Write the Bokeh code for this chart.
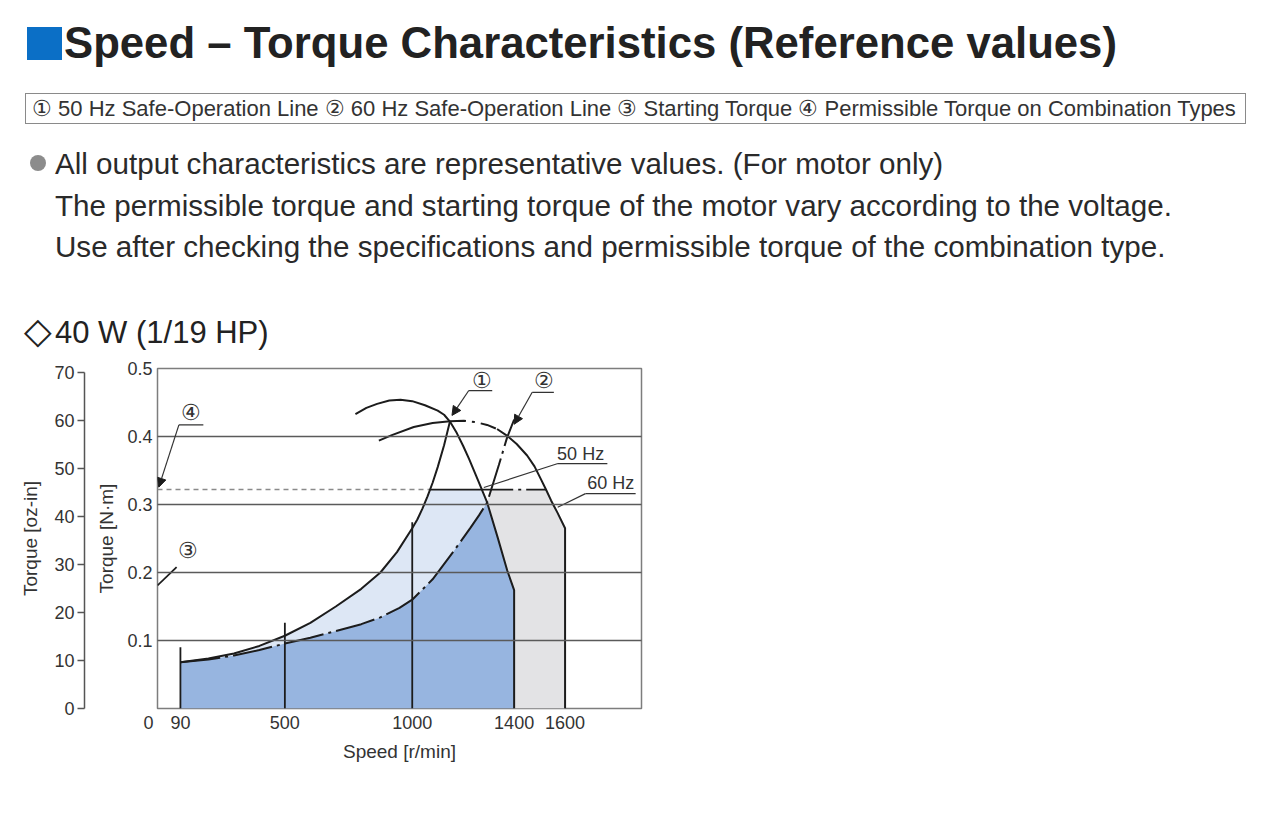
from bokeh.plotting import figure
from bokeh.layouts import column
from bokeh.models import Range1d, LinearAxis, FixedTicker, Arrow, NormalHead, Div
from bokeh.embed import file_html
from bokeh.resources import INLINE
from bokeh.core.properties import value

# ---------------- data ----------------
speed_ticks = [0, 90, 500, 1000, 1400, 1600]
nm_ticks = [0.1, 0.2, 0.3, 0.4, 0.5]
nm_grid = [0.1, 0.2, 0.3, 0.4]
oz_ticks = [0, 10, 20, 30, 40, 50, 60, 70]

# (1) 50 Hz safe-operation line
safe50_speed = [90, 200, 300, 400, 500, 600, 700, 800, 875, 940, 1000, 1020, 1040, 1060,
                1080, 1100, 1125, 1148]
safe50_torque = [0.068, 0.0735, 0.081, 0.092, 0.107, 0.126, 0.150, 0.176, 0.200, 0.230,
                 0.265, 0.278, 0.294, 0.312, 0.332, 0.355, 0.387, 0.422]
# (2) 60 Hz safe-operation line
safe60_speed = [90, 200, 300, 400, 500, 600, 700, 800, 875, 950, 1000, 1080, 1164, 1229,
                1262, 1294, 1310, 1340, 1372, 1400]
safe60_torque = [0.068, 0.072, 0.078, 0.086, 0.0955, 0.104, 0.114, 0.124, 0.134, 0.148,
                 0.160, 0.190, 0.232, 0.266, 0.284, 0.303, 0.322, 0.358, 0.398, 0.425]
# 50 Hz speed-torque curve
motor50_speed = [777, 820, 862, 910, 954, 1000, 1050, 1100, 1125, 1148, 1175, 1200, 1223,
                 1260, 1294, 1335, 1373, 1400, 1400]
motor50_torque = [0.433, 0.442, 0.448, 0.453, 0.454, 0.452, 0.446, 0.438, 0.432, 0.422,
                  0.405, 0.386, 0.367, 0.334, 0.303, 0.252, 0.203, 0.174, 0.0]
# 60 Hz speed-torque curve
motor60_speed = [869, 920, 1006, 1080, 1148, 1203, 1250, 1294, 1333, 1373, 1410, 1451,
                 1480, 1504, 1525, 1545, 1570, 1600, 1600]
motor60_torque = [0.394, 0.402, 0.414, 0.420, 0.4225, 0.423, 0.421, 0.417, 0.411, 0.401,
                  0.389, 0.372, 0.356, 0.338, 0.322, 0.306, 0.288, 0.265, 0.0]
# (4) permissible torque on combination types
perm_torque = 0.322
perm_dash_speed = [0, 1070]
cap50_speed = [1070, 1273]
cap60_speed = [1310, 1525]
# speed marker lines
marker_speed = [90, 500, 1000]
marker_top = [0.090, 0.126, 0.274]
# (3) starting torque mark
start_speed = [0, 75]
start_torque = [0.181, 0.208]

# call-outs
circled_text = ["\u2460", "\u2461", "\u2462", "\u2463"]
circled_x = [1273, 1516, 118, 133]
circled_y = [0.483, 0.482, 0.233, 0.436]
hz_text = ["50 Hz", "60 Hz"]
hz_x = [1661, 1779]
hz_y = [0.375, 0.332]
underline_x0 = [1222, 1471, 84, 1569, 1680]
underline_x1 = [1314, 1556, 180, 1766, 1877]
underline_y = [0.4676, 0.465, 0.417, 0.360, 0.316]
arrow_x0 = [1222, 1471, 84]
arrow_y0 = [0.4676, 0.465, 0.417]
arrow_x1 = [1156, 1400, 5]
arrow_y1 = [0.431, 0.418, 0.3255]
leader_x0 = [1569, 1680]
leader_y0 = [0.360, 0.316]
leader_x1 = [1281, 1571]
leader_y1 = [0.325, 0.296]

title = "Speed \u2013 Torque Characteristics (Reference values)"
legend_text = ("\u2460 50 Hz Safe-Operation Line \u2461 60 Hz Safe-Operation Line "
               "\u2462 Starting Torque \u2463 Permissible Torque on Combination Types")
notes = ["All output characteristics are representative values. (For motor only)",
         "The permissible torque and starting torque of the motor vary according to the voltage.",
         "Use after checking the specifications and permissible torque of the combination type."]
subtitle_mark = "\u25c7"
subtitle = "40 W (1/19 HP)"

# ---------------- styles ----------------
FONT = "Liberation Sans"
CSS_FONT = "font-family:'Liberation Sans',Arial,sans-serif;"
TXT = "#333333"
INK = "#1c1c1c"
DARK_BLUE = "#97b5e0"
LIGHT_BLUE = "#dde7f5"
GRAY = "#e3e3e5"
W = 1264
HEAD_H = 352
CHART_H = 448


def text_block(left, top, size, text, weight="normal", color="#222222"):
    return (f'<div style="position:absolute;left:{left}px;top:{top}px;{CSS_FONT}'
            f'font-size:{size}px;font-weight:{weight};color:{color};line-height:1;'
            f'white-space:nowrap;">{text}</div>')


# ---------------- header (page text) ----------------
parts = [
    '<div style="position:absolute;left:27px;top:27px;width:35px;height:33px;'
    'background:#0b6fc6;"></div>',
    text_block(64, 21.0, 43.7, title, weight="bold"),
    '<div style="position:absolute;left:25px;top:93px;width:1221px;height:31px;'
    'box-sizing:border-box;border:1.5px solid #8a8a8a;"></div>',
    text_block(32, 97.8, 22, legend_text, color="#333333"),
    '<div style="position:absolute;left:30px;top:155px;width:16px;height:16px;'
    'border-radius:50%;background:#8c8c8c;"></div>',
]
for note, top in zip(notes, [149.0, 190.5, 232.0]):
    parts.append(text_block(55, top, 29.6, note, color="#2a2a2a"))
parts.append(text_block(
    24, 312.5, 31,
    f'<span style="font-size:36px;margin-right:3px;">{subtitle_mark}</span>{subtitle}'))
head = Div(text='<div style="position:relative;width:1264px;height:352px;">'
           + "".join(parts) + "</div>", width=W, height=HEAD_H, margin=(0, 0, 0, 0))

# ---------------- chart ----------------
p = figure(width=W, height=CHART_H, x_range=Range1d(0, 1900), y_range=Range1d(0, 0.5),
           output_backend="svg", toolbar_location=None,
           min_border_left=157, min_border_right=W - 641, min_border_top=368 - HEAD_H,
           min_border_bottom=HEAD_H + CHART_H - 708)
p.background_fill_color = "white"
p.border_fill_color = "white"
p.outline_line_color = "#7d7d7d"
p.outline_line_width = 1.5

# x axis
p.xaxis.ticker = FixedTicker(ticks=speed_ticks)
p.xaxis.major_label_overrides = {0: "0\u2003"}
p.xaxis.axis_line_color = None
p.xaxis.major_tick_line_color = None
p.xaxis.minor_tick_line_color = None
p.xaxis.major_tick_out = 0
p.xaxis.minor_tick_out = 0
p.xaxis.major_label_text_font = FONT
p.xaxis.major_label_text_font_size = "18px"
p.xaxis.major_label_text_color = TXT
p.xaxis.major_label_standoff = 4
p.xaxis.axis_label = "Speed [r/min]"
p.xaxis.axis_label_text_font = FONT
p.xaxis.axis_label_text_font_size = "19px"
p.xaxis.axis_label_text_font_style = "normal"
p.xaxis.axis_label_text_color = TXT
p.xaxis.axis_label_standoff = 5

# N·m axis
ynm = p.yaxis[0]
ynm.ticker = FixedTicker(ticks=nm_ticks)
ynm.axis_line_color = None
ynm.major_tick_line_color = None
ynm.minor_tick_line_color = None
ynm.major_tick_out = 0
ynm.minor_tick_out = 0
ynm.major_label_text_font = FONT
ynm.major_label_text_font_size = "18px"
ynm.major_label_text_color = TXT
ynm.major_label_standoff = 5
ynm.axis_label = "Torque [N\u00b7m]"
ynm.axis_label_text_font = FONT
ynm.axis_label_text_font_size = "19px"
ynm.axis_label_text_font_style = "normal"
ynm.axis_label_text_color = TXT
ynm.axis_label_standoff = 7

# empty spacer between the two torque axes
spacer = LinearAxis(ticker=FixedTicker(ticks=[]), axis_line_color=None,
                    major_tick_line_color=None, minor_tick_line_color=None,
                    major_tick_out=0, minor_tick_out=0, axis_label="\u00a0",
                    axis_label_text_font_size="1px", axis_label_standoff=5)
p.add_layout(spacer, "left")

# oz-in axis
p.extra_y_ranges = {"oz": Range1d(0, 70.81)}
yoz = LinearAxis(y_range_name="oz", ticker=FixedTicker(ticks=oz_ticks), bounds=(0, 70),
                 axis_label="Torque [oz-in]")
yoz.axis_line_color = "#555555"
yoz.axis_line_width = 1.5
yoz.major_tick_line_color = "#555555"
yoz.major_tick_line_width = 1.5
yoz.major_tick_out = 7
yoz.major_tick_in = 0
yoz.minor_tick_line_color = None
yoz.minor_tick_out = 0
yoz.major_label_text_font = FONT
yoz.major_label_text_font_size = "18px"
yoz.major_label_text_color = TXT
yoz.major_label_standoff = 3
yoz.axis_label_text_font = FONT
yoz.axis_label_text_font_size = "19px"
yoz.axis_label_text_font_style = "normal"
yoz.axis_label_text_color = TXT
yoz.axis_label_standoff = 10
p.add_layout(yoz, "left")

p.xgrid.visible = False
p.ygrid.ticker = FixedTicker(ticks=nm_grid)
p.ygrid.grid_line_color = "#5a5a5a"
p.ygrid.grid_line_width = 1.5
p.ygrid.level = "guide"

# ---------------- filled regions (built from the curves) ----------------
iB = safe60_speed.index(1294)
iB2 = safe60_speed.index(cap60_speed[0])
iC = motor50_speed.index(1294)
iA = safe50_speed.index(1060)
iD = motor60_speed.index(cap60_speed[1])

dark_x = [marker_speed[0]] + safe60_speed[:iB + 1] + motor50_speed[iC + 1:]
dark_y = [0.0] + safe60_torque[:iB + 1] + motor50_torque[iC + 1:]

light_x = safe50_speed[:iA + 1] + cap50_speed + [motor50_speed[iC]] + safe60_speed[:iB][::-1]
light_y = (safe50_torque[:iA + 1] + [perm_torque] * 2 + [motor50_torque[iC]]
           + safe60_torque[:iB][::-1])

gray_x = (safe60_speed[iB:iB2 + 1] + motor60_speed[iD:] + motor50_speed[iC + 1:][::-1])
gray_y = (safe60_torque[iB:iB2 + 1] + motor60_torque[iD:] + motor50_torque[iC + 1:][::-1])

p.patch(gray_x, gray_y, fill_color=GRAY, line_color=None)
p.patch(light_x, light_y, fill_color=LIGHT_BLUE, line_color=None)
p.patch(dark_x, dark_y, fill_color=DARK_BLUE, line_color=None)

# ---------------- lines ----------------
DASHDOT = "40 5 3 5"
p.line(perm_dash_speed, [perm_torque] * 2, line_color="#8a8a8a", line_width=1.6, line_dash="5 4")
p.line([cap50_speed[0], cap60_speed[0]], [perm_torque] * 2, line_color=INK, line_width=1.8)
p.line(cap60_speed, [perm_torque] * 2, line_color=INK, line_width=1.8, line_dash="22 5 3 5")

p.segment(x0=marker_speed, y0=[0.0] * len(marker_speed), x1=marker_speed, y1=marker_top,
          line_color=INK, line_width=1.8)

p.line(safe50_speed, safe50_torque, line_color=INK, line_width=2)
p.line(safe60_speed, safe60_torque, line_color=INK, line_width=2, line_dash=DASHDOT)
p.line(motor50_speed, motor50_torque, line_color=INK, line_width=2)
i_d1 = motor60_speed.index(1148)
i_d2 = motor60_speed.index(1333)
p.line(motor60_speed[:i_d1 + 1], motor60_torque[:i_d1 + 1], line_color=INK, line_width=2)
p.line(motor60_speed[i_d1:i_d2 + 1], motor60_torque[i_d1:i_d2 + 1], line_color=INK,
       line_width=2, line_dash="16 6 3 6")
p.line(motor60_speed[i_d2:], motor60_torque[i_d2:], line_color=INK, line_width=2)

p.line(start_speed, start_torque, line_color=INK, line_width=1.8)

# ---------------- call-outs ----------------
p.segment(x0=underline_x0, y0=underline_y, x1=underline_x1, y1=underline_y,
          line_color="#333333", line_width=1.2)
p.segment(x0=leader_x0, y0=leader_y0, x1=leader_x1, y1=leader_y1,
          line_color="#333333", line_width=1.2)
for xs, ys, xe, ye in zip(arrow_x0, arrow_y0, arrow_x1, arrow_y1):
    p.add_layout(Arrow(end=NormalHead(size=9, fill_color=INK, line_color=INK, line_width=1),
                       x_start=xs, y_start=ys, x_end=xe, y_end=ye,
                       line_color="#333333", line_width=1.2))
p.text(x=circled_x, y=circled_y, text=circled_text, text_font=value(FONT),
       text_font_size="22px", text_color=TXT, text_align="center", text_baseline="middle")
p.text(x=hz_x, y=hz_y, text=hz_text, text_font=value(FONT),
       text_font_size="18px", text_color=TXT, text_align="center", text_baseline="middle")

layout = column(head, p, spacing=0)
open("out.html", "w").write(file_html(layout, INLINE))
